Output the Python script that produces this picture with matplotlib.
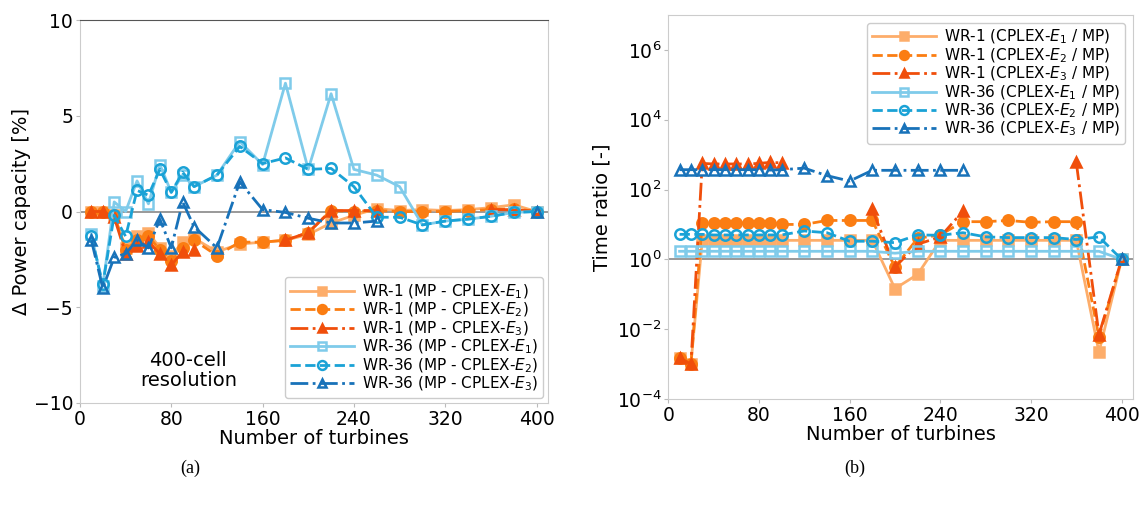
import numpy as np
import matplotlib
matplotlib.use('Agg')
import matplotlib.pyplot as plt

nan = np.nan

# number of turbines
turbines = [10, 20, 30, 40, 50, 60, 70, 80, 90, 100, 120, 140, 160, 180, 200,
            220, 240, 260, 280, 300, 320, 340, 360, 380, 400]

# (a) power capacity difference [%]
wr1_e1_dp = [0.0, 0.0, -0.2, -1.9, -1.3, -1.1, -1.9, -2.3, -1.6, -1.4, -2.1, -1.7, -1.6,
             -1.5, -1.2, -0.6, -0.2, 0.15, 0.05, 0.1, 0.05, 0.1, 0.2, 0.35, 0.0]
wr1_e2_dp = [0.0, 0.0, -0.2, -2.0, -1.5, -1.3, -2.0, -2.6, -1.9, -1.5, -2.3, -1.6, -1.6,
             -1.5, -1.1, 0.05, 0.0, 0.05, 0.0, 0.0, 0.0, 0.05, 0.1, 0.15, 0.0]
wr1_e3_dp = [0.0, 0.0, -0.3, -2.2, -1.8, -1.6, -2.2, -2.8, -2.1, -2.0, nan, nan, nan,
             -1.5, -1.1, 0.05, 0.05, 0.05, nan, nan, nan, nan, 0.1, 0.1, 0.0]
wr36_e1_dp = [-1.2, -3.9, 0.5, 0.0, 1.6, 0.4, 2.45, 1.0, 1.9, 1.3, 1.9, 3.65, 2.45,
              6.7, 2.2, 6.15, 2.2, 1.9, 1.3, -0.7, -0.5, -0.4, -0.25, -0.05, 0.0]
wr36_e2_dp = [-1.3, -3.8, -0.2, -1.3, 1.1, 0.85, 2.2, 1.0, 2.05, 1.3, 1.9, 3.4, 2.5,
              2.8, 2.2, 2.25, 1.3, -0.3, -0.3, -0.7, -0.5, -0.4, -0.25, -0.05, 0.0]
wr36_e3_dp = [-1.5, -4.0, -2.4, -2.2, -1.5, -1.9, -0.4, -1.9, 0.5, -0.8, -1.9, 1.55, 0.1,
              -0.05, -0.35, -0.6, -0.6, -0.5, nan, nan, nan, nan, nan, nan, 0.0]

# (b) time ratio [-]
wr1_e1_tr = [1.5e-3, 1.0e-3, 3.5, 3.5, 3.5, 3.5, 3.5, 3.5, 3.5, 3.5, 3.5, 3.5, 3.5,
             3.5, 0.145, 0.37, 3.5, 3.5, 3.5, 3.5, 3.5, 3.5, 3.5, 2.2e-3, 1.0]
wr1_e2_tr = [1.5e-3, 1.0e-3, 11, 11, 11, 11, 11, 11, 11, 10, 10, 13, 13,
             13, 0.6, 4.0, 5.0, 12, 12, 13, 11.5, 12, 12, 6e-3, 1.0]
wr1_e3_tr = [1.5e-3, 1.0e-3, 560, 540, 540, 540, 540, 560, 600, 580, nan, nan, nan,
             27, 0.6, 2.7, 4.4, 24, nan, nan, nan, nan, 600, 7e-3, 1.0]
wr36_e1_tr = [1.7, 1.7, 1.7, 1.7, 1.7, 1.7, 1.7, 1.7, 1.7, 1.7, 1.7, 1.7, 1.7,
              1.7, 1.5, 1.7, 1.7, 1.7, 1.7, 1.7, 1.7, 1.7, 1.7, 1.7, 1.0]
wr36_e2_tr = [5.2, 5.2, 5.2, 5.0, 5.0, 5.0, 5.0, 5.0, 5.0, 5.0, 6.5, 5.8, 3.3,
              3.3, 3.0, 5.0, 4.9, 5.8, 4.4, 4.2, 4.2, 4.2, 3.7, 4.4, 1.0]
wr36_e3_tr = [370, 370, 370, 370, 370, 370, 370, 370, 360, 370, 410, 250, 175,
              355, 355, 355, 355, 355, nan, nan, nan, nan, nan, nan, 1.0]

labels_a = ['WR-1 (MP - CPLEX-$E_1$)', 'WR-1 (MP - CPLEX-$E_2$)', 'WR-1 (MP - CPLEX-$E_3$)',
            'WR-36 (MP - CPLEX-$E_1$)', 'WR-36 (MP - CPLEX-$E_2$)', 'WR-36 (MP - CPLEX-$E_3$)']
labels_b = ['WR-1 (CPLEX-$E_1$ / MP)', 'WR-1 (CPLEX-$E_2$ / MP)', 'WR-1 (CPLEX-$E_3$ / MP)',
            'WR-36 (CPLEX-$E_1$ / MP)', 'WR-36 (CPLEX-$E_2$ / MP)', 'WR-36 (CPLEX-$E_3$ / MP)']

colors = ['#fdad6a', '#fb7d12', '#f04e0b', '#7fcbea', '#1aa2d6', '#1872b9']
markers = ['s', 'o', '^', 's', 'o', '^']
styles = ['-', '--', '-.', '-', '--', '-.']
filled = [True, True, True, False, False, False]

plt.rcParams['font.family'] = 'DejaVu Sans'
plt.rcParams['mathtext.fontset'] = 'dejavusans'

fig = plt.figure(figsize=(11.39, 5.08), dpi=100)
ax1 = fig.add_axes([0.0702, 0.2067, 0.4109, 0.7539])
ax2 = fig.add_axes([0.5867, 0.2146, 0.4080, 0.7559])


def draw(ax, series, labels):
    for i, ys in enumerate(series):
        ax.plot(turbines, ys, linestyle=styles[i], color=colors[i], marker=markers[i],
                markersize=7.5, linewidth=2, markeredgewidth=1.8,
                markerfacecolor=colors[i] if filled[i] else 'none',
                markeredgecolor=colors[i], label=labels[i], zorder=3)
    for s in ax.spines.values():
        s.set_color('#cccccc')
    ax.tick_params(labelsize=13.5, length=3, color='#bbbbbb', pad=2)


legend_kw = dict(fontsize=11, handlelength=4.2, labelspacing=0.0, borderpad=0.35,
                 handletextpad=0.5, numpoints=1, markerscale=0.85,
                 edgecolor='#cccccc', framealpha=1)

draw(ax1, [wr1_e1_dp, wr1_e2_dp, wr1_e3_dp, wr36_e1_dp, wr36_e2_dp, wr36_e3_dp], labels_a)
ax1.axhline(0, color='#888888', linewidth=1.2, zorder=1)
ax1.set_xlim(0, 410)
ax1.set_ylim(-10, 10)
ax1.set_xticks([0, 80, 160, 240, 320, 400])
ax1.set_yticks([-10, -5, 0, 5, 10])
ax1.spines['top'].set_color('#555555')
ax1.set_xlabel('Number of turbines', fontsize=14, labelpad=0)
ax1.set_ylabel('Δ Power capacity [%]', fontsize=14, labelpad=2)
ax1.text(95, -8.3, '400-cell\nresolution', fontsize=14, ha='center', va='center',
         linespacing=1.1)
ax1.legend(loc='lower right', borderaxespad=0.3, **legend_kw)

draw(ax2, [wr1_e1_tr, wr1_e2_tr, wr1_e3_tr, wr36_e1_tr, wr36_e2_tr, wr36_e3_tr], labels_b)
ax2.set_yscale('log')
ax2.axhline(1, color='#888888', linewidth=1.2, zorder=1)
ax2.set_xlim(0, 410)
ax2.set_ylim(1e-4, 1e7)
ax2.set_xticks([0, 80, 160, 240, 320, 400])
ax2.set_yticks([1e-4, 1e-2, 1e0, 1e2, 1e4, 1e6])
ax2.minorticks_off()
ax2.set_xlabel('Number of turbines', fontsize=14, labelpad=0)
ax2.set_ylabel('Time ratio [-]', fontsize=14, labelpad=4)
ax2.legend(loc='upper right', borderaxespad=0.5, **legend_kw)

fig.text(190 / 1139, 1 - 468 / 508, '(a)', fontsize=13, family='Liberation Serif',
         ha='center', va='center')
fig.text(855 / 1139, 1 - 468 / 508, '(b)', fontsize=13, family='Liberation Serif',
         ha='center', va='center')

fig.savefig('out.png', dpi=100)
